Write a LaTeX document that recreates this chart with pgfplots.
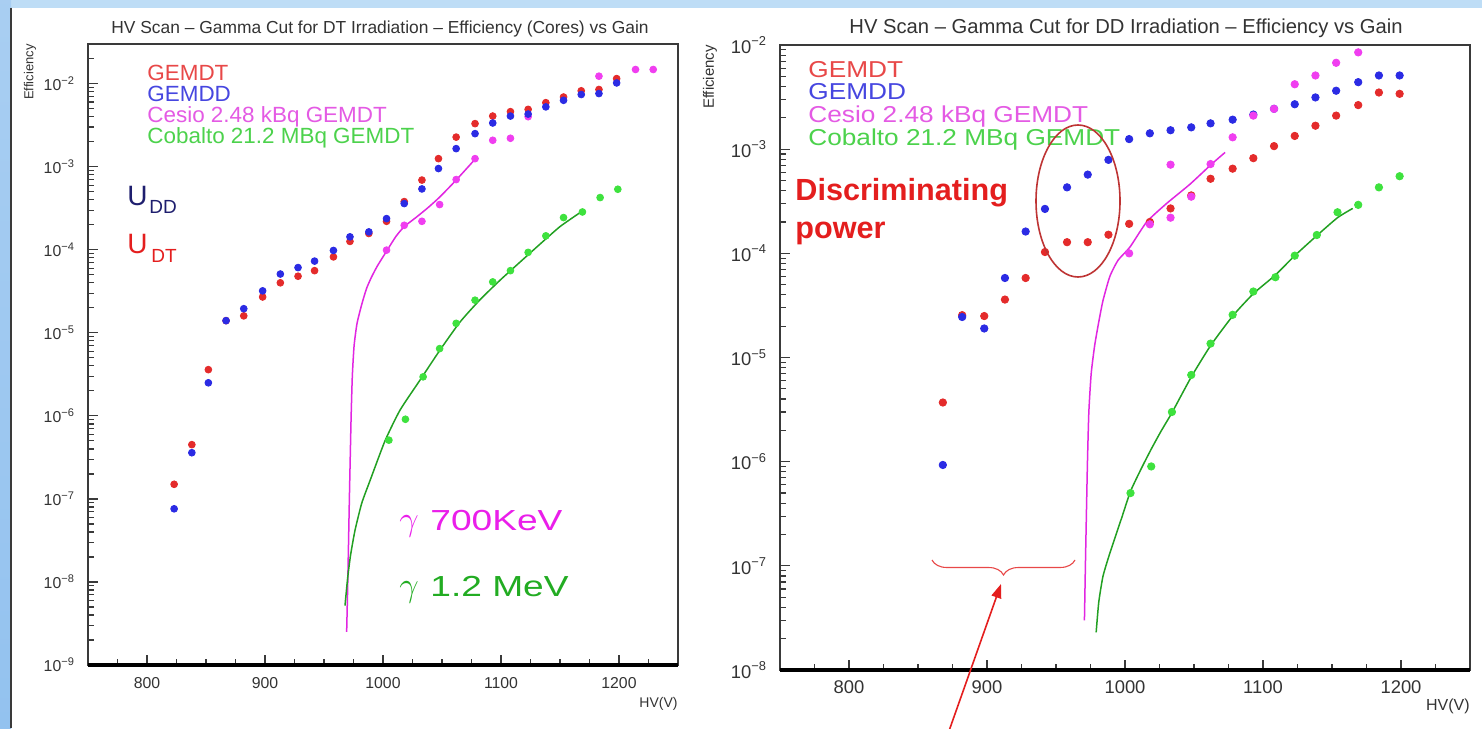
\documentclass[border=0pt]{standalone}
\usepackage{fontspec}
\setmainfont{Liberation Sans}
\usepackage{pgfplots}
\pgfplotsset{compat=1.18}
\usetikzlibrary{arrows.meta,decorations.pathreplacing}

\definecolor{bandblue}{HTML}{BEDDF6}
\definecolor{stripblue}{HTML}{93C2EF}
\definecolor{framegray}{HTML}{3A3A3A}
\definecolor{txtgray}{HTML}{333333}
\definecolor{ptred}{HTML}{E42B2B}
\definecolor{ptblue}{HTML}{2B2BE4}
\definecolor{ptmag}{HTML}{F03EF0}
\definecolor{ptgreen}{HTML}{3EE23E}
\definecolor{fitmag}{HTML}{E126E1}
\definecolor{fitgreen}{HTML}{22A022}
\definecolor{legred}{HTML}{E84848}
\definecolor{legblue}{HTML}{4646E0}
\definecolor{legmag}{HTML}{E45AE4}
\definecolor{leggreen}{HTML}{4CD24C}
\definecolor{navy}{HTML}{1E1E6E}
\definecolor{annred}{HTML}{E41E1E}
\definecolor{ellred}{HTML}{BE3434}
\definecolor{gmag}{HTML}{EA1EEA}
\definecolor{ggreen}{HTML}{22AC22}

\begin{document}
\begin{tikzpicture}
\useasboundingbox (0,0) rectangle (741pt,-364pt);
\fill[white] (0,0) rectangle (741pt,-364pt);

% slide frame
\begin{scope}[x=0.5pt,y=-0.5pt]
  \fill[bandblue] (0,0) rectangle (1482,7.5);
  \shade[top color=stripblue!80, bottom color=stripblue] (0,0) rectangle (11,728);
  \draw[framegray, line width=0.6pt] (11,7.5) -- (11,728);
\end{scope}

% ---------------- left panel: DT irradiation ----------------
\begin{axis}[at={(44pt,-332.5pt)}, anchor=south west,
  scale only axis, clip=false,
  width=295pt, height=310.5pt,
  xmin=750, xmax=1250, ymode=log, ymin=1e-9, ymax=3e-2,
  axis line style={draw=framegray, line width=0.8pt},
  tick style={draw=framegray, line width=0.6pt},
  tick align=inside, xtick pos=left, ytick pos=left,
  major tick length=5pt, minor tick length=3pt,
  xtick={800,900,1000,1100,1200},
  xticklabels={800,900,1000,1100,1200},
  minor xtick={775,825,850,875,925,950,975,1025,1050,1075,1125,1150,1175,1225},
  ytick={1e-9,1e-8,1e-7,1e-6,1e-5,1e-4,1e-3,1e-2},
  yticklabels={10\textsuperscript{−9},10\textsuperscript{−8},10\textsuperscript{−7},10\textsuperscript{−6},10\textsuperscript{−5},10\textsuperscript{−4},10\textsuperscript{−3},10\textsuperscript{−2}},
  minor ytick={2e-9,3e-9,4e-9,5e-9,6e-9,7e-9,8e-9,9e-9,
    2e-8,3e-8,4e-8,5e-8,6e-8,7e-8,8e-8,9e-8,
    2e-7,3e-7,4e-7,5e-7,6e-7,7e-7,8e-7,9e-7,
    2e-6,3e-6,4e-6,5e-6,6e-6,7e-6,8e-6,9e-6,
    2e-5,3e-5,4e-5,5e-5,6e-5,7e-5,8e-5,9e-5,
    2e-4,3e-4,4e-4,5e-4,6e-4,7e-4,8e-4,9e-4,
    2e-3,3e-3,4e-3,5e-3,6e-3,7e-3,8e-3,9e-3,
    2e-2,3e-2},
  xticklabel style={font=\fontsize{7.9}{9}\selectfont, text=txtgray, yshift=-2.5pt},
  yticklabel style={font=\fontsize{7.9}{9}\selectfont, text=txtgray, xshift=-3pt},
]
% Cesio fit
\addplot[no marks, line width=0.75pt, smooth, tension=0.35, color=fitmag] coordinates {
  (969.2,2.5e-9) (970.0,8e-9) (970.8,3e-8) (971.5,1e-7) (972.3,3.5e-7)
  (973.0,1e-6) (974.0,3e-6) (975.5,7e-6) (978,1.3e-5) (982,2.2e-5)
  (986,3.4e-5) (990,4.6e-5) (995,6.3e-5) (1003,9.6e-5) (1011,1.45e-4)
  (1018,1.9e-4) (1028,2.45e-4) (1038,3.2e-4) (1048,4.3e-4) (1062,6.9e-4)
  (1078,1.23e-3)};
% Cobalto fit
\addplot[no marks, line width=0.75pt, smooth, tension=0.35, color=fitgreen] coordinates {
  (967.8,5.2e-9) (970,1.1e-8) (972.5,2.1e-8) (976.3,4.2e-8) (982,8.9e-8)
  (989,1.66e-7) (1001.7,5.0e-7) (1014.4,1.17e-6) (1031.4,2.7e-6) (1048.3,6.2e-6)
  (1065.3,1.35e-5) (1082.2,2.5e-5) (1099.2,4.3e-5) (1116.1,7.1e-5) (1133.1,1.17e-4)
  (1150,1.9e-4) (1167,2.8e-4)};
% Cesio 2.48 kBq GEMDT
\addplot[only marks, mark=*, mark size=1.7pt, color=ptmag] coordinates {
  (1003,9.9e-5) (1018,1.97e-4) (1033,2.2e-4) (1048,3.5e-4) (1062,7.0e-4)
  (1078,1.25e-3) (1093,2.08e-3) (1108,2.2e-3) (1123,4.0e-3) (1183,1.23e-2)
  (1214,1.48e-2) (1229,1.48e-2)};
% GEMDT
\addplot[only marks, mark=*, mark size=1.7pt, color=ptred] coordinates {
  (823,1.5e-7) (838,4.5e-7) (852,3.6e-6) (867,1.4e-5) (882,1.6e-5)
  (898,2.7e-5) (913,4.0e-5) (928,4.8e-5) (942,5.6e-5) (958,8.2e-5)
  (972,1.26e-4) (988,1.57e-4) (1003,2.2e-4) (1018,3.8e-4) (1033,6.9e-4)
  (1047,1.25e-3) (1062,2.27e-3) (1078,3.3e-3) (1093,4.07e-3) (1108,4.6e-3)
  (1123,4.9e-3) (1138,5.9e-3) (1153,6.9e-3) (1168,8.2e-3) (1183,8.5e-3)
  (1198,1.15e-2)};
% GEMDD
\addplot[only marks, mark=*, mark size=1.7pt, color=ptblue] coordinates {
  (823,7.6e-8) (838,3.6e-7) (852,2.5e-6) (867,1.4e-5) (882,1.95e-5)
  (898,3.2e-5) (913,5.1e-5) (928,6.1e-5) (942,7.3e-5) (958,9.8e-5)
  (972,1.43e-4) (988,1.64e-4) (1003,2.37e-4) (1018,3.6e-4) (1033,5.4e-4)
  (1047,9.5e-4) (1062,1.65e-3) (1078,2.5e-3) (1093,3.36e-3) (1108,4.07e-3)
  (1123,4.3e-3) (1138,5.25e-3) (1153,6.3e-3) (1168,7.4e-3) (1183,7.6e-3)
  (1198,1.02e-2)};
% Cobalto 21.2 MBq GEMDT
\addplot[only marks, mark=*, mark size=1.7pt, color=ptgreen] coordinates {
  (1005,5.1e-7) (1019,9.1e-7) (1034,2.95e-6) (1048,6.45e-6) (1062,1.3e-5)
  (1078,2.47e-5) (1093,4.1e-5) (1108,5.6e-5) (1123,9.3e-5) (1138,1.47e-4)
  (1153,2.44e-4) (1169,2.85e-4) (1184,4.25e-4) (1199,5.35e-4)};
\draw[black, line width=1.6pt] (rel axis cs:0,0) -- (rel axis cs:1,0);
\end{axis}

% ---------------- right panel: DD irradiation ----------------
\begin{axis}[at={(390pt,-335pt)}, anchor=south west,
  scale only axis, clip=false,
  width=345pt, height=312.5pt,
  xmin=750, xmax=1250, ymode=log, ymin=1e-8, ymax=1e-2,
  axis line style={draw=framegray, line width=0.8pt},
  tick style={draw=framegray, line width=0.6pt},
  tick align=inside, xtick pos=left, ytick pos=left,
  major tick length=5pt, minor tick length=3pt,
  xtick={800,900,1000,1100,1200},
  xticklabels={800,900,1000,1100,1200},
  minor xtick={775,825,850,875,925,950,975,1025,1050,1075,1125,1150,1175,1225},
  ytick={1e-8,1e-7,1e-6,1e-5,1e-4,1e-3,1e-2},
  yticklabels={10\textsuperscript{−8},10\textsuperscript{−7},10\textsuperscript{−6},10\textsuperscript{−5},10\textsuperscript{−4},10\textsuperscript{−3},10\textsuperscript{−2}},
  minor ytick={2e-8,3e-8,4e-8,5e-8,6e-8,7e-8,8e-8,9e-8,
    2e-7,3e-7,4e-7,5e-7,6e-7,7e-7,8e-7,9e-7,
    2e-6,3e-6,4e-6,5e-6,6e-6,7e-6,8e-6,9e-6,
    2e-5,3e-5,4e-5,5e-5,6e-5,7e-5,8e-5,9e-5,
    2e-4,3e-4,4e-4,5e-4,6e-4,7e-4,8e-4,9e-4,
    2e-3,3e-3,4e-3,5e-3,6e-3,7e-3,8e-3,9e-3},
  xticklabel style={font=\fontsize{9.2}{11}\selectfont, text=txtgray, yshift=-2pt},
  yticklabel style={font=\fontsize{9.2}{11}\selectfont, text=txtgray, xshift=-3pt},
]
% Cesio fit
\addplot[no marks, line width=0.75pt, smooth, tension=0.35, color=fitmag] coordinates {
  (970.6,3e-8) (971.3,1e-7) (972,3e-7) (972.8,1e-6) (973.8,3e-6)
  (975.5,7e-6) (978,1.3e-5) (981,2.2e-5) (984,3.5e-5) (989,6.0e-5)
  (995,8.6e-5) (1003.6,1.15e-4) (1015.7,2.0e-4) (1030,3.0e-4) (1047,4.6e-4)
  (1062.8,7.2e-4) (1072.5,9.3e-4)};
% Cobalto fit
\addplot[no marks, line width=0.75pt, smooth, tension=0.35, color=fitgreen] coordinates {
  (979.1,2.3e-8) (981,4.5e-8) (984,7.9e-8) (988,1.2e-7) (992,1.74e-7)
  (998,3.0e-7) (1004,5.2e-7) (1012,8.7e-7) (1019,1.32e-6) (1026,1.95e-6)
  (1034,2.95e-6) (1048,6.5e-6) (1062,1.3e-5) (1078,2.5e-5) (1093,4.1e-5)
  (1109,6.2e-5) (1123,9.5e-5) (1139,1.48e-4) (1154,2.2e-4) (1165,2.7e-4)};
% GEMDT
\addplot[only marks, mark=*, mark size=1.85pt, color=ptred] coordinates {
  (868,3.7e-6) (882,2.55e-5) (898,2.5e-5) (913,3.6e-5) (928,5.8e-5)
  (942,1.03e-4) (958,1.28e-4) (973,1.28e-4) (988,1.51e-4) (1003,1.92e-4)
  (1018,2.0e-4) (1033,2.7e-4) (1048,3.6e-4) (1062,5.2e-4) (1078,6.5e-4)
  (1093,8.2e-4) (1108,1.07e-3) (1123,1.34e-3) (1138,1.68e-3) (1153,2.1e-3)
  (1169,2.65e-3) (1184,3.5e-3) (1199,3.4e-3)};
% GEMDD
\addplot[only marks, mark=*, mark size=1.85pt, color=ptblue] coordinates {
  (868,9.3e-7) (882,2.45e-5) (898,1.9e-5) (913,5.8e-5) (928,1.62e-4)
  (942,2.67e-4) (958,4.3e-4) (973,5.7e-4) (988,7.9e-4) (1003,1.25e-3)
  (1018,1.42e-3) (1033,1.52e-3) (1048,1.62e-3) (1062,1.77e-3) (1078,1.92e-3)
  (1093,2.15e-3) (1108,2.44e-3) (1123,2.7e-3) (1138,3.14e-3) (1153,3.64e-3)
  (1169,4.4e-3) (1184,5.1e-3) (1199,5.1e-3)};
% Cesio 2.48 kBq GEMDT
\addplot[only marks, mark=*, mark size=1.85pt, color=ptmag] coordinates {
  (1003,1.0e-4) (1018,1.9e-4) (1033,2.2e-4) (1033,7.1e-4) (1048,3.5e-4)
  (1062,7.2e-4) (1078,1.3e-3) (1093,2.1e-3) (1108,2.44e-3) (1123,4.2e-3)
  (1138,5.1e-3) (1153,6.75e-3) (1169,8.5e-3)};
% Cobalto 21.2 MBq GEMDT
\addplot[only marks, mark=*, mark size=1.85pt, color=ptgreen] coordinates {
  (1004,5.0e-7) (1019,9.0e-7) (1034,3.0e-6) (1048,6.8e-6) (1062,1.36e-5)
  (1078,2.57e-5) (1093,4.3e-5) (1109,5.9e-5) (1123,9.5e-5) (1139,1.5e-4)
  (1154,2.48e-4) (1169,2.92e-4) (1184,4.3e-4) (1199,5.5e-4)};
\draw[black, line width=1.6pt] (rel axis cs:0,0) -- (rel axis cs:1,0);
\end{axis}

% ---------------- texts and annotations ----------------
\begin{scope}[x=0.5pt,y=-0.5pt, every node/.style={inner sep=0pt}]
  % titles
  \node[anchor=base, text=txtgray, font=\fontsize{8.7}{10}\selectfont] at (380,33.5)
    {HV Scan – Gamma Cut for DT Irradiation – Efficiency (Cores) vs Gain};
  \node[anchor=base, text=txtgray, font=\fontsize{10.1}{12}\selectfont] at (1126,33)
    {HV Scan – Gamma Cut for DD Irradiation – Efficiency vs Gain};
  % axis titles
  \node[rotate=90, text=txtgray, font=\fontsize{6.5}{8}\selectfont] at (30,72) {Efficiency};
  \node[rotate=90, text=txtgray, font=\fontsize{7.5}{9}\selectfont] at (710,77) {Efficiency};
  \node[anchor=base east, text=txtgray, font=\fontsize{7}{8}\selectfont] at (678,707) {HV(V)};
  \node[anchor=base east, text=txtgray, font=\fontsize{8}{9}\selectfont] at (1470,710) {HV(V)};

  % legend, left panel
  \begin{scope}[every node/.append style={anchor=base west, font=\fontsize{11}{13}\selectfont}]
    \node[text=legred]   at (147,80)  {\scalebox{1.02}[1]{GEMDT}};
    \node[text=legblue]  at (147,101) {\scalebox{1.02}[1]{GEMDD}};
    \node[text=legmag]   at (147,122) {\scalebox{1.02}[1]{Cesio 2.48 kBq GEMDT}};
    \node[text=leggreen] at (147,143) {\scalebox{1.02}[1]{Cobalto 21.2 MBq GEMDT}};
  \end{scope}
  % legend, right panel
  \begin{scope}[every node/.append style={anchor=base west, font=\fontsize{11.5}{13}\selectfont}]
    \node[text=legred]   at (808,77)  {\scalebox{1.14}[1]{GEMDT}};
    \node[text=legblue]  at (808,99.5) {\scalebox{1.14}[1]{GEMDD}};
    \node[text=legmag]   at (808,122) {\scalebox{1.14}[1]{Cesio 2.48 kBq GEMDT}};
    \node[text=leggreen] at (808,145) {\scalebox{1.14}[1]{Cobalto 21.2 MBq GEMDT}};
  \end{scope}

  % U_DD and U_DT
  \node[anchor=base west, text=navy, font=\fontsize{14}{16}\selectfont] at (127,205) {U};
  \node[anchor=base west, text=navy, font=\fontsize{9.5}{11}\selectfont] at (149,213) {DD};
  \node[anchor=base west, text=annred, font=\fontsize{14}{16}\selectfont] at (127,253) {U};
  \node[anchor=base west, text=annred, font=\fontsize{9.5}{11}\selectfont] at (151,262) {DT};

  % gamma energies
  \node[anchor=base west, text=gmag, font=\fontsize{17}{19}\selectfont] at (399,530) {$\gamma$};
  \node[anchor=base west, text=gmag, font=\fontsize{14.5}{17}\selectfont] at (430,530) {\scalebox{1.28}[1]{700KeV}};
  \node[anchor=base west, text=ggreen, font=\fontsize{17}{19}\selectfont] at (399,596) {$\gamma$};
  \node[anchor=base west, text=ggreen, font=\fontsize{14.5}{17}\selectfont] at (430,596) {\scalebox{1.28}[1]{1.2 MeV}};

  % discriminating power
  \node[anchor=base west, text=annred, font=\bfseries\fontsize{15.3}{17}\selectfont] at (795,200) {Discriminating};
  \node[anchor=base west, text=annred, font=\bfseries\fontsize{15.3}{17}\selectfont] at (795,238) {power};
  \draw[ellred, line width=0.8pt] (1078,201) ellipse [x radius=21pt, y radius=38pt];

  % threshold brace and arrow
  \draw[legred, line width=0.55pt, decorate, decoration={brace, amplitude=7.5pt, mirror}]
    (932,560) -- (1075,560);
  \draw[annred, line width=0.8pt, -{Triangle[length=7pt,width=5pt]}] (944,745) -- (1001,584);
\end{scope}
\end{tikzpicture}
\end{document}
